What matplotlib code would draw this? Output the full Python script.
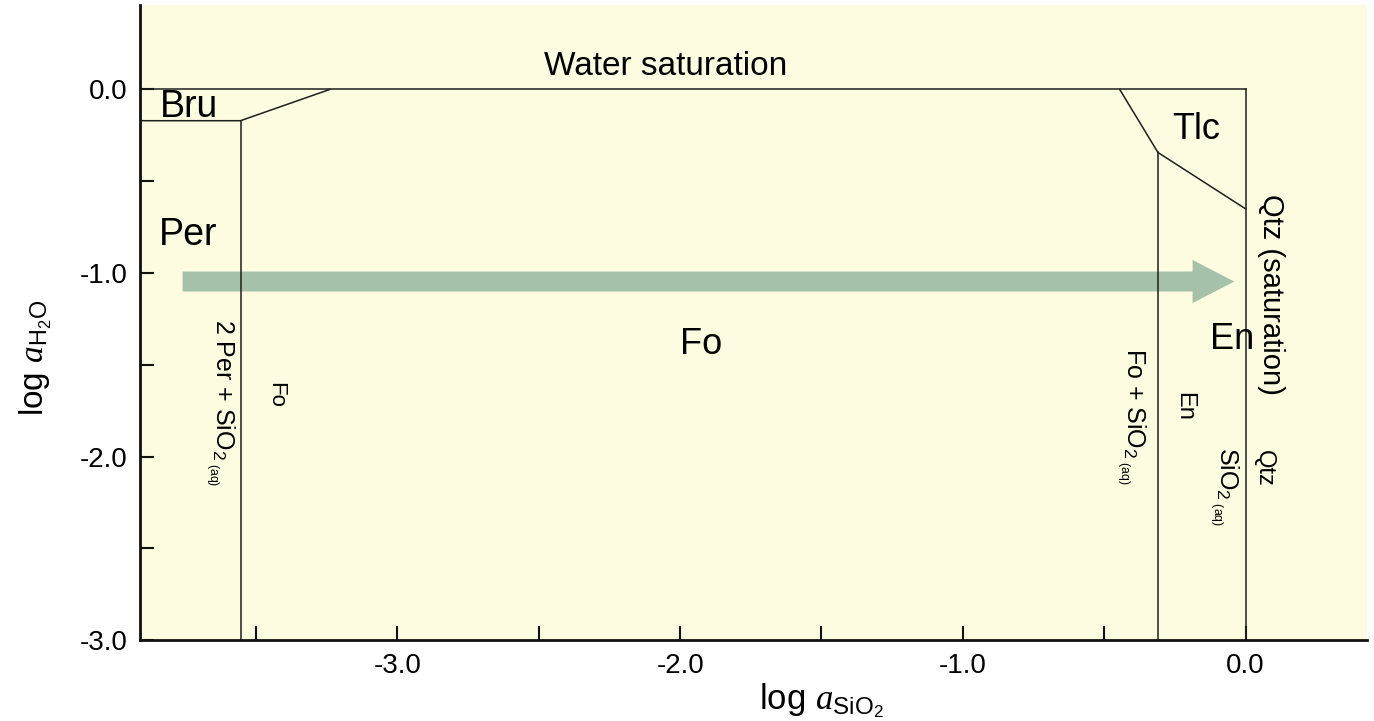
import matplotlib
matplotlib.use("Agg")
import matplotlib.pyplot as plt
from matplotlib.ticker import FixedLocator, FixedFormatter

plt.rcParams['font.family'] = ['Liberation Sans', 'DejaVu Sans']
plt.rcParams['mathtext.fontset'] = 'custom'
plt.rcParams['mathtext.rm'] = 'Liberation Sans'
plt.rcParams['mathtext.it'] = 'Liberation Serif:italic'
plt.rcParams['mathtext.bf'] = 'Liberation Sans:bold'

# phase boundaries (log aSiO2, log aH2O)
left_edge = -3.91
water_x = [left_edge, 0.0]
water_y = [0.0, 0.0]
bru_x = [left_edge, -3.555, -3.24]
bru_y = [-0.17, -0.17, 0.0]
per_fo_x = [-3.555, -3.555]
per_fo_y = [-0.17, -3.0]
tlc_x = [-0.445, -0.31, 0.0]
tlc_y = [0.0, -0.343, -0.65]
fo_en_x = [-0.31, -0.31]
fo_en_y = [-0.343, -3.0]
qtz_x = [0.0, 0.0]
qtz_y = [0.0, -3.0]

# arrow (increasing silica activity)
arrow_start = (-3.76, -1.046)
arrow_end = (-0.04, -1.046)

x_major = [-3.0, -2.0, -1.0, 0.0]
x_minor = [-3.5, -2.5, -1.5, -0.5]
y_major = [0.0, -1.0, -2.0, -3.0]
y_minor = [-0.5, -1.5, -2.5]
x_labels = ["-3.0", "-2.0", "-1.0", "0.0"]
y_labels = ["0.0", "-1.0", "-2.0", "-3.0"]

line_col = "#1e1e1e"
bg_col = "#fdfbe0"
arrow_col = "#a5c1aa"

fig = plt.figure(figsize=(13.74, 7.21), dpi=100)
ax = fig.add_axes([0.102, 0.112, 0.893, 0.881])
ax.set_facecolor(bg_col)

ax.annotate("", xy=arrow_end, xytext=arrow_start,
            arrowprops=dict(arrowstyle="simple,head_length=1.5,head_width=1.55,tail_width=0.72",
                            mutation_scale=20, color=arrow_col, lw=0,
                            shrinkA=0, shrinkB=0), zorder=1)

for xs, ys in [(water_x, water_y), (bru_x, bru_y), (per_fo_x, per_fo_y),
               (tlc_x, tlc_y), (fo_en_x, fo_en_y), (qtz_x, qtz_y)]:
    ax.plot(xs, ys, color=line_col, lw=1.1, zorder=2)

ax.set_xlim(left_edge, 0.43)
ax.set_ylim(-3.0, 0.46)

for s in ["top", "right"]:
    ax.spines[s].set_visible(False)
for s in ["left", "bottom"]:
    ax.spines[s].set_linewidth(2.0)
    ax.spines[s].set_color("#111111")

ax.xaxis.set_major_locator(FixedLocator(x_major))
ax.xaxis.set_major_formatter(FixedFormatter(x_labels))
ax.xaxis.set_minor_locator(FixedLocator(x_minor))
ax.yaxis.set_major_locator(FixedLocator(y_major))
ax.yaxis.set_major_formatter(FixedFormatter(y_labels))
ax.yaxis.set_minor_locator(FixedLocator(y_minor))
ax.tick_params(which="both", direction="in", length=10, width=1.5,
               color="#111111", labelsize=20, pad=9)

ax.set_xlabel(r"log $\mathit{a}_{\mathrm{SiO}_{2}}$", fontsize=25)
ax.xaxis.set_label_coords(0.555, -0.065)
ax.set_ylabel(r"log $\mathit{a}_{\mathrm{H}_{2}\mathrm{O}}$", fontsize=24)
ax.yaxis.set_label_coords(-0.07, 0.444)

# field labels
ax.text(-2.053, 0.125, "Water saturation", fontsize=24, ha="center", va="center")
ax.text(-3.84, -0.098, "Bru", fontsize=27, ha="left", va="center")
ax.text(-3.845, -0.79, "Per", fontsize=27, ha="left", va="center")
ax.text(-1.925, -1.39, "Fo", fontsize=26, ha="center", va="center")
ax.text(-0.173, -0.218, "Tlc", fontsize=26, ha="center", va="center")
ax.text(-0.046, -1.362, "En", fontsize=26, ha="center", va="center")

# reaction labels (rotated)
aq = r"SiO$_{2\ {}_{\mathrm{(aq)}}}$"
ax.text(0.09, -1.117, "Qtz (saturation)", fontsize=21, rotation=270,
        ha="center", va="center")
ax.text(-3.625, -1.706, "2 Per + " + aq, fontsize=18, rotation=270,
        ha="center", va="center")
ax.text(-3.431, -1.662, "Fo", fontsize=16, rotation=270, ha="center", va="center")
ax.text(-0.403, -1.78, "Fo + " + aq, fontsize=18, rotation=270,
        ha="center", va="center")
ax.text(-0.219, -1.727, "En", fontsize=17, rotation=270, ha="center", va="center")
ax.text(-0.074, -2.163, aq, fontsize=18, rotation=270, ha="center", va="center")
ax.text(0.065, -2.065, "Qtz", fontsize=17, rotation=270, ha="center", va="center")

fig.savefig("out.png", dpi=100, facecolor="white")
